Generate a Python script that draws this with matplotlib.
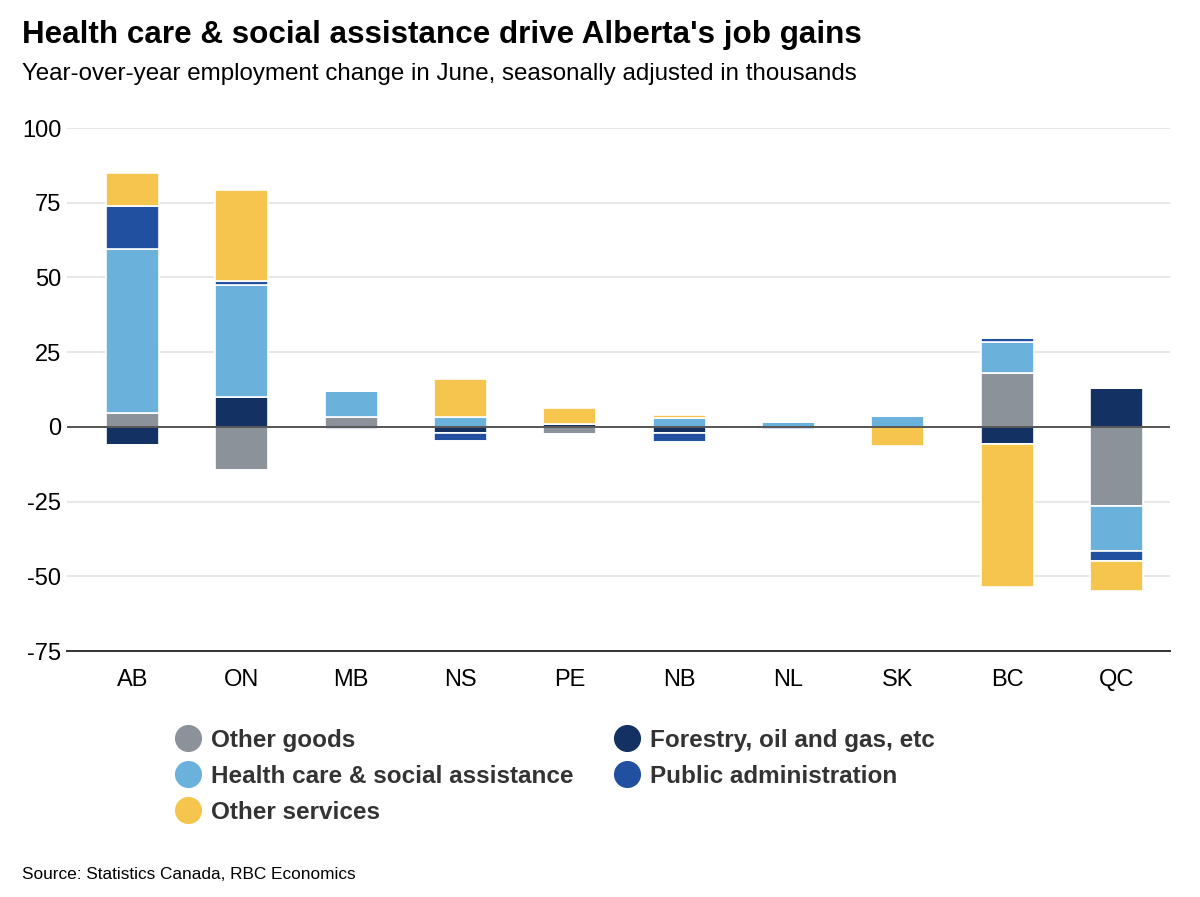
import matplotlib.pyplot as plt
import numpy as np
from matplotlib.lines import Line2D

plt.rcParams['font.family'] = ['Liberation Sans', 'DejaVu Sans']
plt.rcParams['axes.unicode_minus'] = False

# Provinces, left to right
provinces = ['AB', 'ON', 'MB', 'NS', 'PE', 'NB', 'NL', 'SK', 'BC', 'QC']

# Year-over-year change, thousands
other_goods = [4.5, -14.4, 3.2, 0.0, -2.5, 0.0, 0.0, 0.0, 18.0, -26.5]
forestry = [-6.0, 10.0, -0.3, -2.0, 1.0, -2.0, -0.3, 0.0, -5.6, 13.0]
health = [55.0, 37.5, 8.7, 3.3, 0.0, 2.8, 1.6, 3.8, 10.5, -15.0]
public_admin = [14.5, 1.2, -0.8, -2.7, 0.0, -3.0, -0.8, 0.0, 1.3, -3.3]
other_services = [11.0, 30.6, 0.0, 12.8, 5.3, 1.3, 0.0, -6.5, -48.0, -10.2]

# stacking order, bottom up (same order both sides of zero)
series = [
    ('Other goods', other_goods, '#8c9299'),
    ('Forestry, oil and gas, etc', forestry, '#133263'),
    ('Health care & social assistance', health, '#6ab2dc'),
    ('Public administration', public_admin, '#2150a0'),
    ('Other services', other_services, '#f5c54e'),
]

fig = plt.figure(figsize=(12, 8.97), dpi=100)
ax = fig.add_axes([67/1200, 1 - 651/897, 1103/1200, 523/897])

x = np.arange(len(provinces))
pos_base = np.zeros(len(provinces))
neg_base = np.zeros(len(provinces))
for name, vals, col in series:
    v = np.array(vals)
    pos = np.where(v > 0, v, 0)
    neg = np.where(v < 0, v, 0)
    ax.bar(x, pos, 0.485, bottom=pos_base, color=col, edgecolor='white', linewidth=1.2, zorder=3)
    ax.bar(x, neg, 0.485, bottom=neg_base, color=col, edgecolor='white', linewidth=1.2, zorder=3)
    pos_base += pos
    neg_base += neg

ax.axhline(0, color='#555555', lw=1.4, zorder=4)

ax.set_ylim(-75, 100)
ax.set_xlim(-0.6, 9.49)
ax.set_yticks([100, 75, 50, 25, 0, -25, -50, -75])
ax.set_xticks(x)
ax.set_xticklabels(provinces)
ax.yaxis.grid(True, color='#e3e3e3', lw=1.2, zorder=0)
ax.set_axisbelow(True)
for s in ['top', 'right', 'left']:
    ax.spines[s].set_visible(False)
ax.spines['bottom'].set_color('#333333')
ax.spines['bottom'].set_linewidth(1.4)
ax.tick_params(axis='both', length=0, labelsize=17, colors='black')
ax.tick_params(axis='y', pad=4)
ax.tick_params(axis='x', pad=13)

fig.text(22/1200, 1 - 43/897, "Health care & social assistance drive Alberta's job gains",
         fontsize=22.6, fontweight='bold', va='baseline')
fig.text(22/1200, 1 - 80/897, "Year-over-year employment change in June, seasonally adjusted in thousands",
         fontsize=17.4, va='baseline')
fig.text(22/1200, 1 - 879/897, "Source: Statistics Canada, RBC Economics",
         fontsize=12.4, va='baseline')

# legend drawn by hand: two columns, first one filled top-down
col_x = [188, 627]
row_y = [738, 774, 810]
order = [0, 2, 4, 1, 3]
for k, i in enumerate(order):
    cx = col_x[k // 3]
    cy = row_y[k % 3]
    name, _, col = series[i]
    fig.add_artist(Line2D([cx/1200], [1 - cy/897], ls='', marker='o', ms=18.5,
                          color=col, transform=fig.transFigure))
    fig.text((cx + 23)/1200, 1 - cy/897, name, fontsize=17.5, fontweight='bold',
             color='#333333', va='center_baseline')

fig.savefig('out.png', dpi=100)
